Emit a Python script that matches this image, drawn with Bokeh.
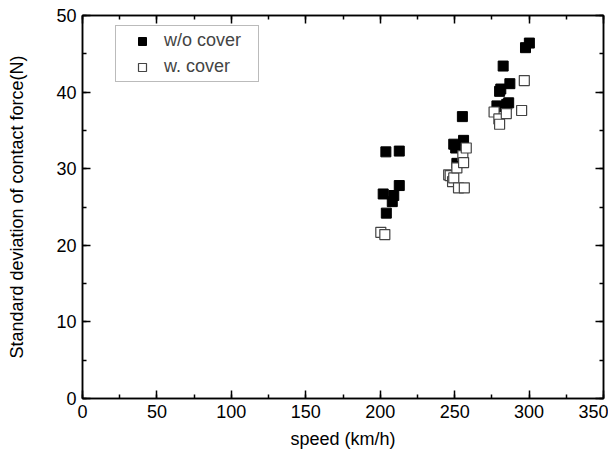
from bokeh.plotting import figure
from bokeh.models import (LinearAxis, SingleIntervalTicker, Range1d, Legend, LegendItem,
                          CustomJSTickFormatter)
from bokeh.embed import file_html
from bokeh.resources import INLINE

# w/o cover
speed_wo = [202.0, 203.8, 204.1, 208.1, 209.1, 212.8, 212.8, 249.4, 250.7, 251.5,
            255.2, 256.0, 278.4, 280.2, 281.0, 281.8, 282.6, 285.0, 286.3, 287.1,
            297.6, 300.2]
force_wo = [26.7, 32.2, 24.2, 25.7, 26.5, 32.3, 27.8, 33.2, 32.7, 30.7,
            36.8, 33.7, 38.2, 40.1, 40.4, 38.1, 43.4, 38.4, 38.6, 41.1,
            45.8, 46.4]
# w. cover
speed_w = [200.4, 203.1, 246.0, 247.0, 248.6, 249.4, 251.5, 252.6, 255.5, 256.0,
           256.5, 257.8, 276.5, 279.7, 280.2, 284.7, 295.0, 296.8]
force_w = [21.7, 21.4, 29.2, 29.1, 28.3, 28.8, 30.1, 27.5, 31.7, 30.8,
           27.5, 32.7, 37.4, 36.5, 35.8, 37.2, 37.6, 41.5]

FONT = "Liberation Sans"
FS = "18px"

p = figure(width=608, height=452, output_backend="svg", toolbar_location=None,
           x_range=Range1d(0, 350), y_range=Range1d(0, 50),
           x_axis_label="speed (km/h)",
           y_axis_label="Standard deviation of contact force(N)",
           min_border_left=82, min_border_right=5, min_border_top=15, min_border_bottom=54)
p.grid.visible = False
p.outline_line_color = "black"
p.outline_line_width = 1.5
p.background_fill_color = "white"
p.border_fill_color = "white"

p.xaxis.ticker = SingleIntervalTicker(interval=50, num_minor_ticks=2)
p.yaxis.ticker = SingleIntervalTicker(interval=10, num_minor_ticks=2)

blank = CustomJSTickFormatter(code="return '';")
top = LinearAxis(ticker=SingleIntervalTicker(interval=50, num_minor_ticks=2), formatter=blank)
right = LinearAxis(ticker=SingleIntervalTicker(interval=10, num_minor_ticks=2), formatter=blank)
p.add_layout(top, "above")
p.add_layout(right, "right")
for ax in (top, right):
    ax.major_label_standoff = 0
    ax.major_label_text_font_size = "1px"

for ax in p.xaxis + p.yaxis:
    ax.axis_line_color = "black"
    ax.axis_line_width = 1.5
    ax.major_tick_in = 8
    ax.major_tick_out = 0
    ax.minor_tick_in = 4
    ax.minor_tick_out = 0
    ax.major_tick_line_color = "black"
    ax.minor_tick_line_color = "black"
    ax.major_tick_line_width = 1.5
    ax.minor_tick_line_width = 1.5
    ax.major_label_text_font = FONT
    ax.axis_label_text_font = FONT
    ax.axis_label_text_font_style = "normal"
    ax.major_label_text_color = "black"
    ax.axis_label_text_color = "black"

for ax in p.below + p.left:
    ax.major_label_text_font_size = FS
    ax.axis_label_text_font_size = FS
p.below[0].major_label_standoff = 6
p.below[0].axis_label_standoff = 8
p.left[0].major_label_standoff = 6
p.left[0].axis_label_standoff = 26

r1 = p.scatter(speed_wo, force_wo, marker="square", size=10,
               fill_color="black", line_color="black", line_width=1)
r2 = p.scatter(speed_w, force_w, marker="square", size=10,
               fill_color="white", line_color="#444444", line_width=1.2)

legend = Legend(items=[LegendItem(label="w/o cover", renderers=[r1]),
                       LegendItem(label="w. cover", renderers=[r2])],
                location=(33, 316))
legend.border_line_color = "#777777"
legend.border_line_width = 1
legend.label_text_font = FONT
legend.label_text_font_size = FS
legend.padding = 4
legend.spacing = 5
legend.margin = 0
legend.glyph_width = 44
legend.glyph_height = 20
legend.label_standoff = 0
legend.label_width = 90
legend.label_height = 20
legend.background_fill_alpha = 1
p.add_layout(legend, "center")

open("out.html", "w").write(file_html(p, INLINE))
